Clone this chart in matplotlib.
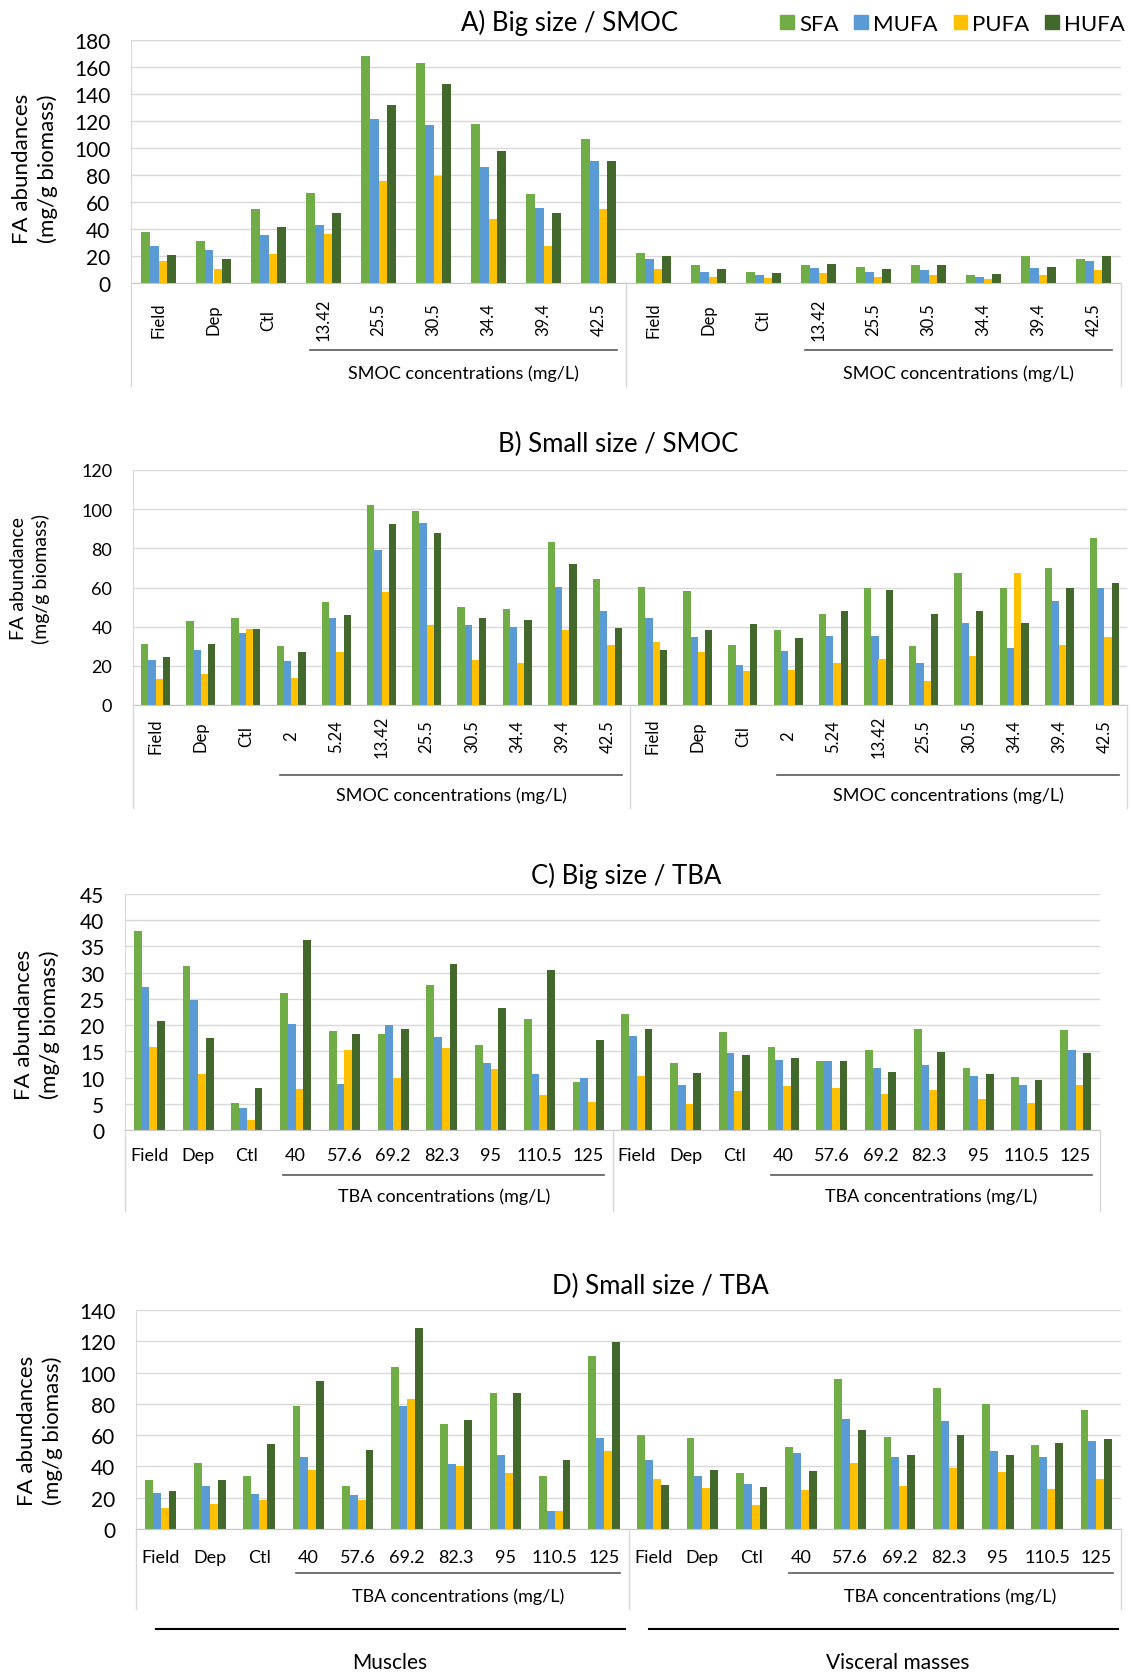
import numpy as np
import matplotlib.pyplot as plt
from matplotlib import transforms
from matplotlib.lines import Line2D
from matplotlib.patches import Patch

plt.rcParams['font.family'] = ['Lato', 'DejaVu Sans']

# Category labels (first half = muscles, second half = visceral masses)
smoc_big_cats = ['Field', 'Dep', 'Ctl', '13.42', '25.5', '30.5', '34.4', '39.4', '42.5']
smoc_small_cats = ['Field', 'Dep', 'Ctl', '2', '5.24', '13.42', '25.5', '30.5', '34.4', '39.4', '42.5']
tba_cats = ['Field', 'Dep', 'Ctl', '40', '57.6', '69.2', '82.3', '95', '110.5', '125']

series_names = ['SFA', 'MUFA', 'PUFA', 'HUFA']
colors = ['#70AD47', '#5B9BD5', '#FFC000', '#43682B']

# A) Big size / SMOC (mg/g biomass)
a_sfa = [37.6, 31, 54.6, 66.9, 168, 163.3, 117.8, 65.9, 106.5,
         22.4, 13, 8.4, 13, 12, 13, 5.7, 19.7, 17.7]
a_mufa = [27.3, 24.3, 35.9, 43.3, 121.7, 117, 85.8, 55.6, 90.5,
          17.7, 8.4, 5.7, 11.3, 8.4, 9.3, 4.7, 11.3, 16]
a_pufa = [16, 10.3, 21.6, 36.6, 75.5, 79.4, 47.2, 27.3, 54.6,
          10.3, 4.4, 3.7, 7.4, 4.7, 5.7, 2.7, 5.7, 9.3]
a_hufa = [20.7, 18, 41.6, 51.9, 132, 147.3, 98.1, 51.9, 90.5,
          19.7, 10.1, 7.4, 14, 10.1, 13, 6.4, 12, 19.7]

# B) Small size / SMOC
b_sfa = [31.3, 42.7, 44.6, 30.1, 52.4, 102.1, 98.9, 49.9, 49.2, 83.2, 64.2,
         60.3, 58.4, 30.8, 38.1, 46.6, 59.6, 30.1, 67.4, 59.6, 70, 85.1]
b_mufa = [23, 28.3, 36.8, 22.3, 44.6, 79.1, 92.9, 40.7, 40, 60.3, 47.8,
          44.6, 34.7, 20.3, 27.6, 35.4, 35.4, 21.6, 42, 28.9, 53.1, 59.6]
b_pufa = [13.1, 15.7, 38.6, 13.8, 26.9, 57.7, 40.7, 23, 21.6, 38.1, 30.8,
          32.2, 26.9, 17.2, 17.9, 21.6, 23.7, 12.4, 25, 67.4, 30.8, 34.7]
b_hufa = [24.3, 31.3, 38.6, 26.9, 46, 92.4, 87.8, 44.6, 43.2, 72, 39.3,
          28.3, 38.1, 41.4, 34.2, 47.8, 58.9, 46.6, 47.8, 42, 59.6, 62.3]

# C) Big size / TBA
c_sfa = [38, 31.3, 5.2, 26.2, 18.8, 18.3, 27.6, 16.3, 21.2, 9.1,
         22.2, 12.8, 18.7, 15.8, 13.1, 15.3, 19.2, 11.8, 10.1, 19]
c_mufa = [27.2, 24.7, 4.2, 20.3, 8.8, 20, 17.8, 12.8, 10.6, 9.9,
          18, 8.6, 14.6, 13.3, 13.1, 11.8, 12.3, 10.3, 8.6, 15.3]
c_pufa = [15.8, 10.6, 2, 7.9, 15.3, 9.9, 15.6, 11.6, 6.7, 5.4,
          10.3, 4.9, 7.4, 8.4, 8.1, 6.9, 7.6, 5.9, 5.2, 8.6]
c_hufa = [20.7, 17.6, 8.1, 36.3, 18.3, 19.3, 31.6, 23.2, 30.6, 17.2,
          19.3, 10.8, 14.3, 13.8, 13.1, 11.1, 14.8, 10.6, 9.6, 14.6]

# D) Small size / TBA
d_sfa = [31.2, 42.5, 34.2, 78.4, 27.8, 103.3, 66.9, 86.9, 33.6, 110.9,
         59.9, 58.2, 35.5, 52.3, 96.2, 58.6, 90.1, 79.7, 53.8, 75.8]
d_mufa = [22.7, 27.8, 22.1, 46.1, 21.9, 78.8, 41.6, 47.6, 11.7, 58.4,
          44.2, 34.2, 28.7, 48.9, 70.1, 46.1, 68.8, 50.1, 46.1, 56.1]
d_pufa = [13.2, 15.7, 18.3, 37.4, 18.5, 83.3, 40.4, 35.5, 11.7, 49.9,
          32.1, 26.3, 15.5, 25.1, 42.1, 27.6, 38.9, 36.5, 25.7, 32.1]
d_hufa = [24.2, 31.4, 54.4, 94.8, 50.6, 128.3, 69.9, 86.9, 44.4, 119.8,
          28, 37.6, 27, 37, 63.3, 47, 60.3, 47.4, 54.8, 57.4]

W, H = 1134, 1674
fig = plt.figure(figsize=(W / 100, H / 100), dpi=100)


def fy(py):
    return 1 - py / H


def draw_panel(box, cats, values, ymax, ystep, title, title_xy, ylabel, ylabel_xy,
               group_text, rot, tick_pad, tick_fs, ytick_fs, ylabel_fs,
               line_y, text_y, bottom_y):
    left, top, right, bottom = box
    ax = fig.add_axes([left / W, fy(bottom), (right - left) / W, (bottom - top) / H])
    labels = cats + cats
    n = len(labels)
    x = np.arange(n)
    w = 0.16
    for i, vals in enumerate(values):
        ax.bar(x + (i - 1.5) * w, vals, width=w, color=colors[i], label=series_names[i])

    ax.set_xlim(-0.5, n - 0.5)
    ax.set_ylim(0, ymax)
    ax.set_yticks(np.arange(0, ymax + 1, ystep))
    ax.tick_params(axis='y', length=0, pad=15, labelsize=ytick_fs)
    ax.set_xticks(x)
    ax.set_xticklabels(labels, rotation=rot, va='center', ha='center', fontsize=tick_fs)
    ax.tick_params(axis='x', length=0, pad=tick_pad)
    ax.grid(axis='y', color='#D9D9D9', linewidth=1)
    ax.set_axisbelow(True)
    for s in ['top', 'right']:
        ax.spines[s].set_visible(False)
    ax.spines['left'].set_color('#D9D9D9')
    ax.spines['bottom'].set_color('#C8C8C8')

    fig.text(title_xy[0] / W, fy(title_xy[1]), title, fontsize=18.5, ha='center', va='center')
    fig.text(ylabel_xy[0] / W, fy(ylabel_xy[1]), ylabel, fontsize=ylabel_fs, rotation=90,
             ha='center', va='center', multialignment='center', linespacing=1.3)

    trans = transforms.blended_transform_factory(ax.transData, fig.transFigure)
    # dividers of the two-level category axis
    for xd in [-0.5, n / 2 - 0.5, n - 0.5]:
        fig.add_artist(Line2D([xd, xd], [fy(bottom), fy(bottom_y)], transform=trans,
                              color='#D9D9D9', linewidth=1))
    # concentration group underline + label
    half = len(cats)
    for start in [0, half]:
        x0, x1 = start + 3 - 0.25, start + half - 1 + 0.33
        fig.add_artist(Line2D([x0, x1], [fy(line_y), fy(line_y)], transform=trans,
                              color='#595959', linewidth=1.2))
        ax.text((x0 + x1) / 2, fy(text_y), group_text, transform=trans,
                ha='center', va='center', fontsize=13)
    return ax


draw_panel((131, 41, 1121, 284), smoc_big_cats, [a_sfa, a_mufa, a_pufa, a_hufa],
           180, 20, 'A) Big size / SMOC', (569, 23), 'FA abundances\n(mg/g biomass)', (35, 169),
           'SMOC concentrations (mg/L)', 90, 26, 12, 15, 16, 351, 374, 387)

draw_panel((133, 471, 1127, 706), smoc_small_cats, [b_sfa, b_mufa, b_pufa, b_hufa],
           120, 20, 'B) Small size / SMOC', (618, 444), 'FA abundance\n(mg/g biomass)', (30, 579),
           'SMOC concentrations (mg/L)', 90, 22, 12, 13, 14, 776, 796, 809)

draw_panel((125, 895, 1100, 1131), tba_cats, [c_sfa, c_mufa, c_pufa, c_hufa],
           45, 5, 'C) Big size / TBA', (626, 876), 'FA abundances\n(mg/g biomass)', (37, 1025),
           'TBA concentrations (mg/L)', 0, 18, 13, 15, 16, 1176, 1197, 1212)

draw_panel((136, 1311, 1121, 1530), tba_cats, [d_sfa, d_mufa, d_pufa, d_hufa],
           140, 20, 'D) Small size / TBA', (660, 1286), 'FA abundances\n(mg/g biomass)', (40, 1431),
           'TBA concentrations (mg/L)', 0, 20, 13, 15, 16, 1574, 1597, 1610)

# tissue labels at the bottom
for x0, x1, xt, name in [(156, 625, 390, 'Muscles'), (649, 1118, 898, 'Visceral masses')]:
    fig.add_artist(Line2D([x0 / W, x1 / W], [fy(1630), fy(1630)], color='black', linewidth=1.5))
    fig.text(xt / W, fy(1663), name, fontsize=15, ha='center', va='center')

handles = [Patch(color=c, label=l) for c, l in zip(colors, series_names)]
fig.legend(handles=handles, loc='center right', bbox_to_anchor=(1125 / W, fy(25)), ncol=4,
           frameon=False, fontsize=16, handlelength=0.6, handleheight=0.6,
           handletextpad=0.25, columnspacing=0.7, borderaxespad=0, borderpad=0)

plt.savefig('out.png', dpi=100)
